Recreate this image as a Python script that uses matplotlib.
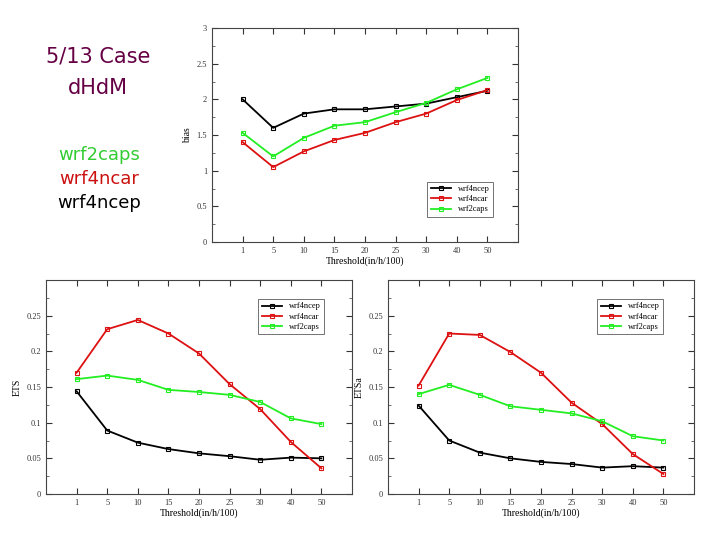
import matplotlib
matplotlib.use("Agg")
import matplotlib.pyplot as plt
from matplotlib.ticker import MultipleLocator

thresholds = ["1", "5", "10", "15", "20", "25", "30", "40", "50"]

# bias (top chart)
bias_ncep = [2.0, 1.6, 1.8, 1.86, 1.86, 1.9, 1.94, 2.03, 2.12]
bias_ncar = [1.4, 1.05, 1.27, 1.43, 1.53, 1.68, 1.8, 1.99, 2.13]
bias_caps = [1.53, 1.2, 1.46, 1.63, 1.68, 1.82, 1.95, 2.14, 2.3]

# ETS (bottom left)
ets_ncep = [0.144, 0.089, 0.072, 0.063, 0.057, 0.053, 0.048, 0.051, 0.050]
ets_ncar = [0.170, 0.231, 0.244, 0.225, 0.197, 0.154, 0.119, 0.073, 0.036]
ets_caps = [0.161, 0.166, 0.160, 0.146, 0.143, 0.139, 0.129, 0.106, 0.098]

# ETSa (bottom right)
etsa_ncep = [0.124, 0.075, 0.058, 0.050, 0.045, 0.042, 0.037, 0.039, 0.037]
etsa_ncar = [0.152, 0.225, 0.223, 0.199, 0.170, 0.128, 0.098, 0.056, 0.028]
etsa_caps = [0.140, 0.153, 0.139, 0.123, 0.118, 0.113, 0.102, 0.081, 0.075]

BLACK = "#000000"
RED = "#dd1111"
GREEN = "#22ee22"
SERIF = "Liberation Serif"

fig = plt.figure(figsize=(7.2, 5.4), dpi=100)


def px_axes(x0, y0, x1, y1):
    return fig.add_axes([x0 / 720, 1 - y1 / 540, (x1 - x0) / 720, (y1 - y0) / 540])


def draw(ax, series, ylim, ymajor, yminor, ylabel, last_label, legend_pos):
    x = list(range(len(thresholds)))
    for vals, col, lab, mk in series:
        ax.plot(x, vals, color=col, lw=1.3, marker=mk, ms=2.5, mfc="none",
                mew=0.8, label=lab)
    ax.set_xlim(-1, len(thresholds))
    ax.set_ylim(*ylim)
    ax.set_xticks(x)
    ax.set_xticklabels(thresholds, fontsize=6, family=SERIF)
    ax.yaxis.set_major_locator(MultipleLocator(ymajor))
    ax.yaxis.set_minor_locator(MultipleLocator(yminor))
    ticks = [t for t in ax.get_yticks() if t <= last_label + 1e-9 and t >= 0]
    ax.set_yticks(ticks)
    ax.set_yticklabels(["%g" % t for t in ticks], fontsize=6, family=SERIF)
    ax.tick_params(direction="in", top=True, right=True, length=4, width=0.8,
                   colors="#333333")
    ax.tick_params(which="minor", direction="in", right=True, length=2,
                   width=0.6, colors="#555555")
    ax.set_xlabel("Threshold(in/h/100)", fontsize=7, family=SERIF, labelpad=1)
    ax.set_ylabel(ylabel, fontsize=7, family=SERIF, labelpad=3)
    for s in ax.spines.values():
        s.set_linewidth(0.8)
        s.set_color("#444444")
    leg = ax.legend(loc="upper left", bbox_to_anchor=legend_pos, fontsize=6,
                    prop={"family": SERIF, "size": 6}, frameon=True,
                    fancybox=False, edgecolor="#333333", handlelength=2.5,
                    borderpad=0.4, labelspacing=0.25)
    leg.get_frame().set_linewidth(0.6)


ax1 = px_axes(212, 28, 518, 242)
draw(ax1,
     [(bias_ncep, BLACK, "wrf4ncep", "s"), (bias_ncar, RED, "wrf4ncar", "s"),
      (bias_caps, GREEN, "wrf2caps", "s")],
     (0, 3), 0.5, 0.25, "bias", 3.0, (0.69, 0.30))

ax2 = px_axes(46, 280, 352, 494)
draw(ax2,
     [(ets_ncep, BLACK, "wrf4ncep", "s"), (ets_ncar, RED, "wrf4ncar", "s"),
      (ets_caps, GREEN, "wrf2caps", "s")],
     (0, 0.3), 0.05, 0.025, "ETS", 0.25, (0.68, 0.93))

ax3 = px_axes(388, 280, 694, 494)
draw(ax3,
     [(etsa_ncep, BLACK, "wrf4ncep", "s"), (etsa_ncar, RED, "wrf4ncar", "s"),
      (etsa_caps, GREEN, "wrf2caps", "s")],
     (0, 0.3), 0.05, 0.025, "ETSa", 0.25, (0.67, 0.93))

# slide text
title_col = "#660044"
fig.text(98 / 720, 1 - 57 / 540, "5/13 Case", color=title_col, fontsize=15,
         ha="center", va="center", family="DejaVu Sans")
fig.text(98 / 720, 1 - 88 / 540, "dHdM", color=title_col, fontsize=15,
         ha="center", va="center", family="DejaVu Sans")
fig.text(99 / 720, 1 - 155 / 540, "wrf2caps", color="#33cc33", fontsize=13,
         ha="center", va="center", family="DejaVu Sans")
fig.text(99 / 720, 1 - 179 / 540, "wrf4ncar", color="#cc1111", fontsize=13,
         ha="center", va="center", family="DejaVu Sans")
fig.text(99 / 720, 1 - 203 / 540, "wrf4ncep", color="#000000", fontsize=13,
         ha="center", va="center", family="DejaVu Sans")

fig.savefig("out.png", dpi=100)
